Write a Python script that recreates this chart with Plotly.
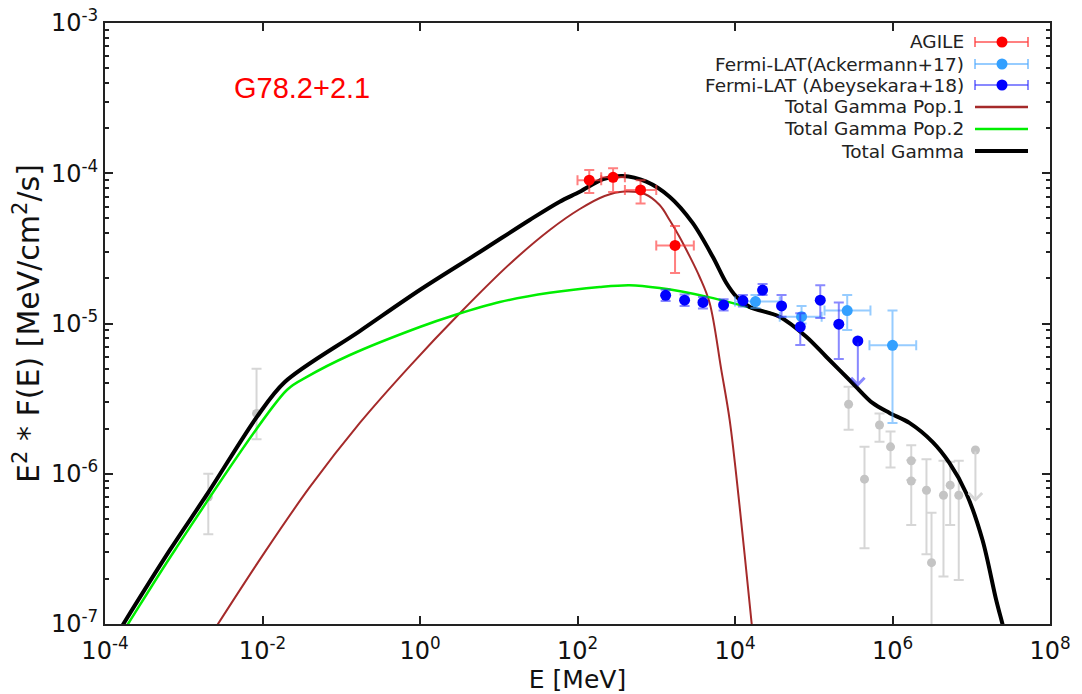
import numpy as np
import plotly.graph_objects as go

# ---------------- data ----------------
# AGILE
agile_E = [141, 283, 632, 1732]
agile_Elo = [100, 200, 400, 1000]
agile_Ehi = [200, 400, 1000, 3000]
agile_F = [9.0e-5, 9.4e-5, 7.74e-5, 3.31e-5]
agile_Fhi = [1.05e-4, 1.08e-4, 9.0e-5, 4.45e-5]
agile_Flo = [7.4e-5, 7.5e-5, 6.3e-5, 2.17e-5]

# Fermi-LAT (Ackermann+17)
ack_E = [1.82e4, 7.0e4, 2.66e5, 1.0e6]
ack_Elo = [1.0e4, 3.7e4, 1.37e5, 5.1e5]
ack_Ehi = [3.7e4, 1.26e5, 5.25e5, 2.0e6]
ack_F = [1.40e-5, 1.11e-5, 1.22e-5, 7.16e-6]
ack_Fhi = [1.55e-5, 1.31e-5, 1.55e-5, 1.22e-5]
ack_Flo = [1.27e-5, 1.0e-5, 9.05e-6, 2.18e-6]

# Fermi-LAT (Abeysekara+18)
abey_E = [1316, 2291, 3917, 7166, 12590, 22400, 39000, 67400, 121000, 208000]
abey_F = [1.54e-5, 1.43e-5, 1.38e-5, 1.33e-5, 1.42e-5, 1.67e-5, 1.31e-5, 9.5e-6, 1.43e-5, 9.9e-6]
abey_Fhi = [1.68e-5, 1.56e-5, 1.50e-5, 1.45e-5, 1.55e-5, 1.83e-5, 1.55e-5, 1.17e-5, 1.80e-5, 1.38e-5]
abey_Flo = [1.41e-5, 1.31e-5, 1.26e-5, 1.22e-5, 1.30e-5, 1.55e-5, 1.11e-5, 7.2e-6, 1.09e-5, 5.8e-6]
abey_ul_E = [363000]
abey_ul_F = [7.65e-6]
abey_ul_end = [3.8e-6]

# other data (grey)
gray_E = [2.05e-3, 8.4e-3, 2.77e5, 4.41e5, 6.84e5, 9.44e5, 1.73e6, 1.73e6, 2.70e6, 3.13e6, 4.44e6, 5.40e6, 6.94e6]
gray_F = [7.0e-7, 2.52e-6, 2.90e-6, 9.2e-7, 2.11e-6, 1.51e-6, 1.22e-6, 8.95e-7, 7.76e-7, 2.56e-7, 7.19e-7, 8.4e-7, 7.19e-7]
gray_Fhi = [1.0e-6, 5.0e-6, 3.80e-6, 1.51e-6, 2.52e-6, 1.91e-6, 1.55e-6, 1.23e-6, 1.25e-6, 5.5e-7, 1.22e-6, 1.2e-6, 1.22e-6]
gray_Flo = [3.95e-7, 1.7e-6, 1.96e-6, 3.19e-7, 1.63e-6, 1.10e-6, 9.1e-7, 4.56e-7, 2.91e-7, 8.0e-8, 2.07e-7, 4.56e-7, 1.96e-7]
gray_ul_E = [1.13e7]
gray_ul_F = [1.44e-6]
gray_ul_end = [6.5e-7]

# model curves
tot_E = [1.38e-4, 1.71e-4, 6.68e-4, 2.03e-3, 8.49e-3, 1.92e-2, 0.172, 0.993, 5.74, 24.7, 59.4, 107,
         212, 375, 748, 1476, 2897, 5200, 7762, 1.04e4, 1.53e4, 3.68e4, 8.04e4, 1.44e5, 3.10e5, 5.57e5,
         9.16e5, 1.64e6, 3.22e6, 5.28e6, 8.61e6, 1.39e7, 2.07e7, 2.49e7, 2.72e7]
tot_F = [8.32e-8, 1.0e-7, 3.11e-7, 7.45e-7, 2.39e-6, 4.08e-6, 8.90e-6, 1.67e-5, 2.99e-5, 4.89e-5,
         6.47e-5, 7.53e-5, 9.14e-5, 9.59e-5, 8.79e-5, 6.98e-5, 4.67e-5, 2.79e-5, 1.86e-5, 1.51e-5, 1.29e-5,
         1.11e-5, 8.17e-6, 6.01e-6, 4.02e-6, 2.96e-6, 2.54e-6, 2.18e-6, 1.63e-6, 1.18e-6, 7.45e-7, 3.62e-7,
         1.45e-7, 1.0e-7, 8.32e-8]

pop2_E = [1.56e-4, 1.96e-4, 7.73e-4, 2.04e-2, 3.66e-2, 0.129, 0.993, 2.77, 10.3, 44.4, 191, 459, 1104, 4325,
          1.14e4, 3.68e4, 8.04e4, 1.44e5, 3.10e5, 5.57e5, 9.16e5, 1.64e6, 3.22e6, 5.28e6, 8.61e6, 1.39e7,
          2.07e7, 2.49e7, 2.72e7]
pop2_F = [8.32e-8, 1.0e-7, 3.11e-7, 3.61e-6, 4.41e-6, 6.17e-6, 9.48e-6, 1.14e-5, 1.39e-5, 1.60e-5, 1.75e-5,
          1.80e-5, 1.72e-5, 1.51e-5, 1.33e-5, 1.11e-5, 8.17e-6, 6.01e-6, 4.02e-6, 2.96e-6, 2.54e-6, 2.18e-6,
          1.63e-6, 1.18e-6, 7.45e-7, 3.62e-7, 1.45e-7, 1.0e-7, 8.32e-8]

pop1_E = [2.17e-3, 1.07e-2, 4.00e-2, 0.172, 0.743, 3.20, 13.8, 44.4, 107, 221, 397, 713, 1104, 1476, 1977,
          2649, 3556, 4764, 6699, 8551, 1.14e4, 1.63e4, 1.70e4]
pop1_F = [8.32e-8, 3.01e-7, 8.17e-7, 2.18e-6, 5.21e-6, 1.17e-5, 2.49e-5, 4.19e-5, 5.78e-5, 7.06e-5, 7.56e-5,
          7.28e-5, 6.15e-5, 4.89e-5, 3.77e-5, 2.81e-5, 2.04e-5, 1.37e-5, 4.91e-6, 2.28e-6, 6.19e-7, 1.0e-7,
          8.32e-8]

x_tickvals = [1e-4, 1e-2, 1e0, 1e2, 1e4, 1e6, 1e8]
x_ticktext = ['10<sup>-4</sup>', '10<sup>-2</sup>', '10<sup>0</sup>', '10<sup>2</sup>',
              '10<sup>4</sup>', '10<sup>6</sup>', '10<sup>8</sup>']
y_tickvals = [1e-7, 1e-6, 1e-5, 1e-4, 1e-3]
y_ticktext = ['10<sup>-7</sup>', '10<sup>-6</sup>', '10<sup>-5</sup>', '10<sup>-4</sup>', '10<sup>-3</sup>']

legend_labels = ['AGILE', 'Fermi-LAT(Ackermann+17)', 'Fermi-LAT (Abeysekara+18)',
                 'Total Gamma Pop.1', 'Total Gamma Pop.2', 'Total Gamma']

# ---------------- styles ----------------
RED = '#ff0000'
RED_ERR = 'rgba(255,60,60,0.65)'
LBLUE = '#33a0ff'
LBLUE_ERR = 'rgba(80,170,255,0.6)'
BLUE = '#0000ff'
BLUE_ERR = 'rgba(40,40,255,0.55)'
GRAY = '#c4c4c4'
GRAY_ERR = '#d6d6d6'
BROWN = '#a52a2a'
GREEN = '#00ee00'


def errs(v, hi, lo):
    v = np.array(v, float)
    return np.array(hi, float) - v, v - np.array(lo, float)


fig = go.Figure()

# grey data (under curves)
gp, gm = errs(gray_F, gray_Fhi, gray_Flo)
fig.add_trace(go.Scatter(x=gray_E, y=gray_F, mode='markers',
                         marker=dict(color=GRAY, size=9),
                         error_y=dict(type='data', array=gp, arrayminus=gm, color=GRAY_ERR,
                                      thickness=2, width=5)))
fig.add_trace(go.Scatter(x=gray_ul_E, y=gray_ul_F, mode='markers', marker=dict(color=GRAY, size=9)))

# model curves
fig.add_trace(go.Scatter(x=pop1_E, y=pop1_F, mode='lines',
                         line=dict(color=BROWN, width=2, shape='spline', smoothing=1.0)))
fig.add_trace(go.Scatter(x=pop2_E, y=pop2_F, mode='lines',
                         line=dict(color=GREEN, width=2.5, shape='spline', smoothing=0.9)))
fig.add_trace(go.Scatter(x=tot_E, y=tot_F, mode='lines',
                         line=dict(color='black', width=4, shape='spline', smoothing=0.9)))

# AGILE
ap, am = errs(agile_F, agile_Fhi, agile_Flo)
xp, xm = errs(agile_E, agile_Ehi, agile_Elo)
fig.add_trace(go.Scatter(x=agile_E, y=agile_F, mode='markers',
                         marker=dict(color=RED, size=11),
                         error_y=dict(type='data', array=ap, arrayminus=am, color=RED_ERR, thickness=2, width=5),
                         error_x=dict(type='data', array=xp, arrayminus=xm, color=RED_ERR, thickness=2, width=5)))

# Fermi Ackermann
kp, km = errs(ack_F, ack_Fhi, ack_Flo)
kxp, kxm = errs(ack_E, ack_Ehi, ack_Elo)
fig.add_trace(go.Scatter(x=ack_E, y=ack_F, mode='markers',
                         marker=dict(color=LBLUE, size=11),
                         error_y=dict(type='data', array=kp, arrayminus=km, color=LBLUE_ERR, thickness=2, width=5),
                         error_x=dict(type='data', array=kxp, arrayminus=kxm, color=LBLUE_ERR, thickness=2, width=5)))

# Fermi Abeysekara
bp, bm = errs(abey_F, abey_Fhi, abey_Flo)
fig.add_trace(go.Scatter(x=abey_E, y=abey_F, mode='markers',
                         marker=dict(color=BLUE, size=11),
                         error_y=dict(type='data', array=bp, arrayminus=bm, color=BLUE_ERR, thickness=2, width=5)))
fig.add_trace(go.Scatter(x=abey_ul_E, y=abey_ul_F, mode='markers', marker=dict(color=BLUE, size=11)))

annotations = []
for E, F0, F1, col in [(abey_ul_E[0], abey_ul_F[0], abey_ul_end[0], BLUE_ERR),
                       (gray_ul_E[0], gray_ul_F[0], gray_ul_end[0], GRAY_ERR)]:
    annotations.append(dict(x=np.log10(E), y=np.log10(F1), ax=np.log10(E), ay=np.log10(F0),
                            xref='x', yref='y', axref='x', ayref='y', text='', showarrow=True,
                            arrowhead=4, arrowsize=1.3, arrowwidth=2, arrowcolor=col))

# ---------------- layout geometry ----------------
W, H = 1082, 694
L, R, T, B = 105, 1050, 23, 624


def pxp(px):
    return (px - L) / (R - L)


def pyp(py):
    return (B - py) / (B - T)


annotations.append(dict(x=pxp(302), y=pyp(88), xref='paper', yref='paper', text='G78.2+2.1',
                        xanchor='center', yanchor='middle',
                        showarrow=False, font=dict(family='Liberation Sans', size=29, color=RED)))

# custom legend (symbol on the right)
shapes = []
leg_rows = [42, 64, 85, 107, 129, 151]
leg_styles = [('err', RED, RED_ERR), ('err', LBLUE, LBLUE_ERR), ('err', BLUE, BLUE_ERR),
              ('line', BROWN, 2.5), ('line', GREEN, 2.5), ('line', 'black', 4)]
x_a, x_b, x_dot, x_txt = 975, 1028, 1002, 966
for lab, py, st in zip(legend_labels, leg_rows, leg_styles):
    annotations.append(dict(x=pxp(x_txt), y=pyp(py), xref='paper', yref='paper', text=lab,
                            xanchor='right', yanchor='middle', showarrow=False,
                            font=dict(family='DejaVu Sans', size=18.5, color='#222222')))
    if st[0] == 'err':
        shapes.append(dict(type='line', xref='paper', yref='paper', x0=pxp(x_a), x1=pxp(x_b),
                           y0=pyp(py), y1=pyp(py), line=dict(color=st[2], width=2)))
        for xx in (x_a, x_b):
            shapes.append(dict(type='line', xref='paper', yref='paper', x0=pxp(xx), x1=pxp(xx),
                               y0=pyp(py - 5), y1=pyp(py + 5), line=dict(color=st[2], width=2)))
        shapes.append(dict(type='circle', xref='paper', yref='paper', xsizemode='pixel', ysizemode='pixel',
                           xanchor=pxp(x_dot), yanchor=pyp(py), x0=-5.5, x1=5.5, y0=-5.5, y1=5.5,
                           fillcolor=st[1], line=dict(width=0)))
    else:
        shapes.append(dict(type='line', xref='paper', yref='paper', x0=pxp(x_a), x1=pxp(x_b),
                           y0=pyp(py), y1=pyp(py), line=dict(color=st[1], width=st[2])))

minor_y = [k * 10.0 ** e for e in range(-7, -3) for k in range(2, 10)]

fig.update_layout(
    width=W, height=H,
    margin=dict(l=L, r=W - R, t=T, b=H - B),
    plot_bgcolor='white', paper_bgcolor='white',
    showlegend=False, hovermode=False,
    font=dict(family='DejaVu Sans', color='#111111'),
    annotations=annotations, shapes=shapes,
    xaxis=dict(type='log', range=[-4, 8], tickvals=x_tickvals, ticktext=x_ticktext,
               ticks='inside', ticklen=8, tickwidth=1.5, tickcolor='#222222', automargin=False,
               ticklabelstandoff=4,
               showline=True, linewidth=2, linecolor='#222222', mirror='ticks',
               showgrid=False, zeroline=False, tickfont=dict(size=24, color='#111111'),
               title=dict(text='E [MeV]', font=dict(size=25, color='#111111'), standoff=12)),
    yaxis=dict(type='log', range=[-7, -3], tickvals=y_tickvals, ticktext=y_ticktext,
               ticks='inside', ticklen=8, tickwidth=1.5, tickcolor='#222222', automargin=False,
               minor=dict(tickvals=minor_y, ticks='inside', ticklen=4, tickcolor='#222222', showgrid=False),
               showline=True, linewidth=2, linecolor='#222222', mirror='ticks',
               showgrid=False, zeroline=False, tickfont=dict(size=24, color='#111111'),
               title=dict(text='E<sup>2</sup> * F(E) [MeV/cm<sup>2</sup>/s]',
                          font=dict(size=30, color='#111111'), standoff=2)),
)

fig.write_html('out.html')
